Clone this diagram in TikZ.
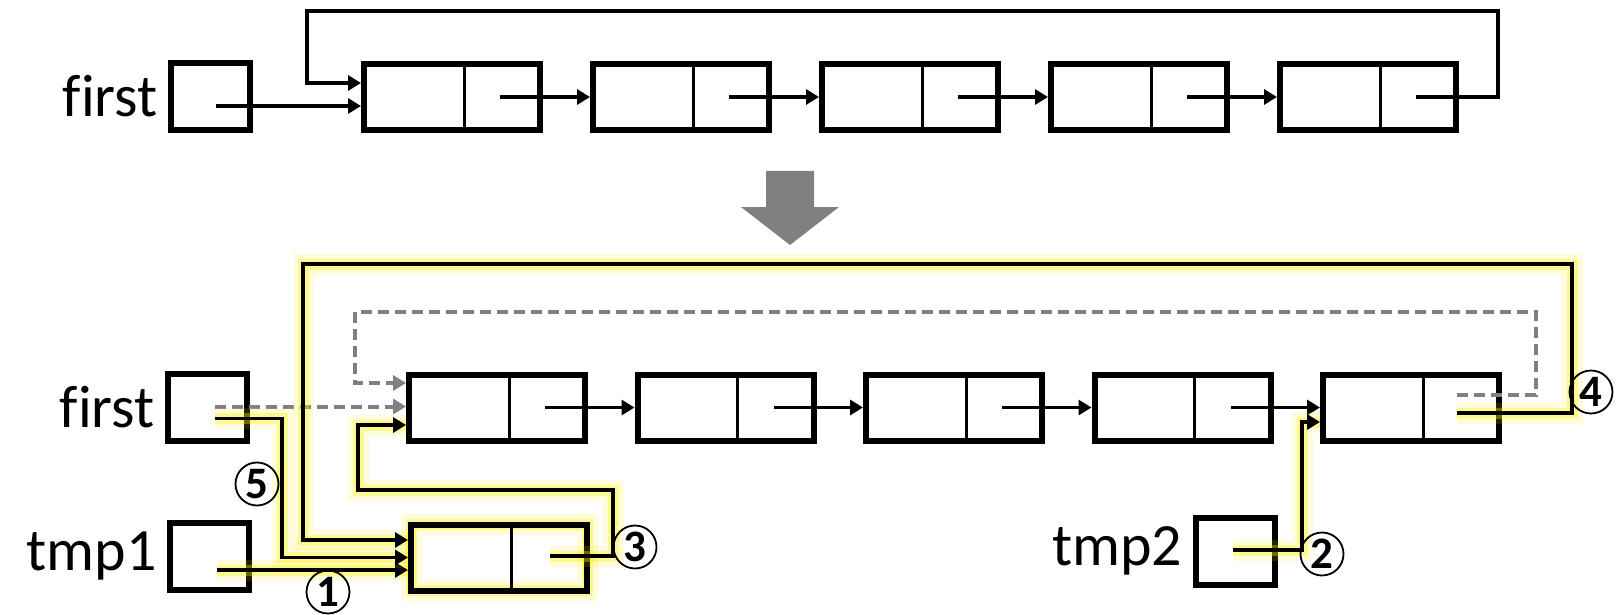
\documentclass[tikz,border=0pt]{standalone}
\usepackage{fontspec}
\setmainfont[Ligatures=NoCommon]{Carlito}
\usetikzlibrary{arrows.meta}
\usetikzlibrary{positioning, calc}
\definecolor{glowy}{RGB}{255,236,0}
\definecolor{dashgray}{RGB}{128,128,128}
\tikzset{
    cell/.style={draw, line width=6pt, minimum width=176pt, minimum height=66pt, inner sep=0pt,
        path picture={
            % divider between data and link
            \draw[line width=3pt] ([xshift=100pt]path picture bounding box.north west) -- ([xshift=100pt]path picture bounding box.south west);
        }},
    var/.style={draw, line width=6pt, minimum width=79pt, minimum height=67pt, inner sep=0pt},
    varlabel/.style={font=\fontsize{60}{64}\selectfont, inner sep=0pt},
    ptr/.style={line width=3.2pt, -{Triangle[length=13pt,width=15pt]}},
    oldptr/.style={ptr, line width=4pt, dashgray, dash pattern=on 11pt off 6pt},
    glow/.style={preaction={draw=glowy, line width=21pt, draw opacity=.14, -},
                 preaction={draw=glowy, line width=11pt, draw opacity=.35, -}},
    num/.style={circle, draw, line width=1.8pt, minimum size=43pt, inner sep=0pt, font=\fontsize{45}{45}\selectfont\bfseries},
}
\begin{document}
\begin{tikzpicture}[x=1pt, y=-1pt]
    \useasboundingbox (0,0) rectangle (1620,615);

    % Before: circular list
    \node[var] (head) at (210.5,96.5) {};
    \node[varlabel, left=10pt of head] (headlbl) {first};
    \foreach \i in {1,...,5}
        \node[cell] (n\i) at ({452+229*(\i-1)},97) {};
    \foreach \i [evaluate=\i as \j using int(\i+1)] in {1,...,4}
        \draw[ptr] ($(n\i.center)+(48,0)$) -- (n\j.west);
    \draw[ptr] ($(head.center)+(5,9.5)$) -- ($(n1.west)+(0,9)$);
    \coordinate (loopTR) at (1498,11);
    \coordinate (loopTL) at (307,11);
    \draw[ptr] ($(n5.center)+(48,0)$) -| (loopTR) -- (loopTL) |- ($(n1.west)+(0,-14)$);

    % Big arrow
    \fill[dashgray] (766,171) -- (814,171) -- (814,207) -- (839,207) -- (790,245) -- (741,207) -- (766,207) -- cycle;

    % After: insert at front
    \node[var] (headb) at (207.5,407.5) {};
    \node[varlabel, left=10pt of headb] (headblbl) {first};
    \node[var] (tmpa) at (209.5,556.5) {};
    \node[varlabel, left=10pt of tmpa] (tmpalbl) {tmp1};
    \node[var] (tmpb) at (1235,551) {};
    \node[varlabel, left=10pt of tmpb] (tmpblbl) {tmp2};
    \foreach \i in {1,...,5}
        \node[cell] (m\i) at ({497+228.5*(\i-1)},407.5) {};
    \node[cell, glow] (nnew) at (499,557.5) {};
    \foreach \i [evaluate=\i as \j using int(\i+1)] in {1,...,4}
        \draw[ptr] ($(m\i.center)+(48,0)$) -- (m\j.west);

    % Old links (dashed)
    \draw[oldptr] ($(headb.center)+(7,-1)$) -- ($(m1.west)+(0,-1)$);
    \coordinate (dashR) at (1536,312);
    \coordinate (dashL) at (355,312);
    \draw[oldptr] ($(m5.center)+(46,-12.5)$) -| (dashR) -- (dashL) |- ($(m1.west)+(0,-24.5)$);

    % New links (highlighted)
    \draw[ptr, glow] ($(tmpa.center)+(7.5,13.5)$) -- ($(nnew.west)+(0,12.5)$);
    \draw[ptr, glow] ($(tmpb.center)+(-2,-1)$) -| ($(m5.west)+(-18,14.5)$) -- ($(m5.west)+(0,14.5)$);
    \coordinate (backR) at (613,490);
    \coordinate (backL) at (358,490);
    \draw[ptr, glow] ($(nnew.center)+(51,-1.5)$) -| (backR) -- (backL) |- ($(m1.west)+(0,17.5)$);
    \coordinate (wrapR) at (1572,264);
    \coordinate (wrapL) at (303,264);
    \draw[ptr, glow] ($(m5.center)+(46,5.5)$) -| (wrapR) -- (wrapL) |- ($(nnew.west)+(0,-17.5)$);
    \draw[ptr, glow] ($(headb.center)+(7.5,11)$) -| ($(nnew.west)+(-126,0)$) -- (nnew.west);

    % Step numbers
    \node[num] (s1) at (328,592) {1};
    \node[num] (s2) at (1322,554) {2};
    \node[num] (s3) at (635,547) {3};
    \node[num] (s4) at (1591,392) {4};
    \node[num] (s5) at (257,484) {5};

\end{tikzpicture}
\end{document}
